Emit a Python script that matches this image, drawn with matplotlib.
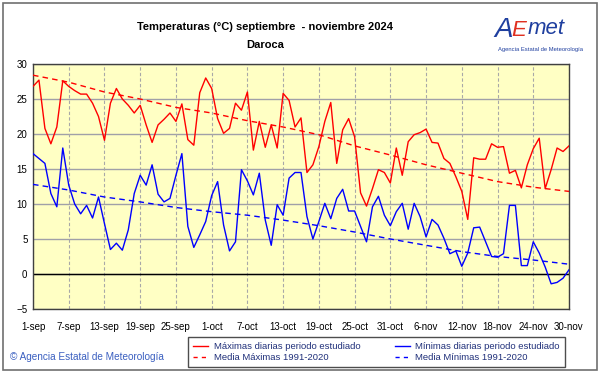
import matplotlib
matplotlib.use("Agg")
import matplotlib.pyplot as plt
from matplotlib.lines import Line2D
from matplotlib.patches import Rectangle

plt.rcParams['font.family'] = ['Liberation Sans', 'DejaVu Sans']

# dias desde el 1 de septiembre
tick_labels = ['1-sep', '7-sep', '13-sep', '19-sep', '25-sep', '1-oct', '7-oct',
               '13-oct', '19-oct', '25-oct', '31-oct', '6-nov', '12-nov',
               '18-nov', '24-nov', '30-nov']
tick_days = [0, 6, 12, 18, 24, 30, 36, 42, 48, 54, 60, 66, 72, 78, 84, 90]

tmax = [26.8, 27.7, 20.8, 18.6, 21.0, 27.6, 26.8, 26.2, 25.7, 25.7,
        24.4, 22.5, 19.1, 24.4, 26.5, 25.0, 24.1, 23.0, 24.1, 21.3,
        18.8, 21.3, 22.1, 23.0, 21.8, 24.3, 19.2, 18.4, 25.9, 28.0,
        26.5, 22.2, 20.1, 20.8, 24.4, 23.4, 26.0, 17.7, 21.8, 18.1,
        21.3, 18.0, 25.8, 24.8, 21.0, 22.3, 14.5, 15.6, 18.2, 21.8,
        24.5, 15.8, 20.6, 22.2, 19.6, 11.6, 9.7, 12.2, 14.9, 14.5,
        13.0, 18.0, 14.1, 18.9, 19.9, 20.2, 20.7, 18.8, 18.7, 16.5,
        15.8, 13.9, 11.8, 7.8, 16.6, 16.4, 16.4, 18.6, 18.1, 18.2,
        14.4, 14.8, 12.3, 15.6, 17.9, 19.4, 12.2, 14.9, 18.0, 17.5,
        18.3]

tmin = [17.2, 16.5, 15.8, 11.5, 9.6, 18.0, 12.7, 10.0, 8.6, 9.8,
        8.0, 11.0, 7.2, 3.5, 4.4, 3.4, 6.3, 11.5, 14.1, 12.7,
        15.6, 11.4, 10.3, 10.8, 14.1, 17.2, 6.8, 3.8, 5.6, 7.5,
        11.2, 13.2, 7.0, 3.3, 4.6, 14.9, 13.3, 11.3, 14.4, 7.7,
        4.1, 9.9, 8.4, 13.7, 14.5, 14.5, 8.2, 5.0, 7.5, 10.1,
        7.9, 10.8, 12.1, 9.0, 9.0, 6.8, 4.6, 9.6, 11.1, 8.4,
        6.9, 8.9, 10.1, 6.4, 10.1, 8.2, 5.3, 7.8, 7.0, 5.1,
        2.9, 3.3, 1.1, 3.0, 6.6, 6.7, 4.6, 2.5, 2.4, 2.9,
        9.8, 9.8, 1.2, 1.2, 4.6, 3.0, 1.0, -1.4, -1.2, -0.6,
        0.6]

media_max = [28.4, 27.4, 26.0, 25.0, 23.8, 23.0, 21.9, 21.0, 19.9, 18.3,
             17.0, 15.6, 14.4, 13.2, 12.4, 11.8]
media_min = [12.8, 12.0, 11.0, 10.3, 9.5, 8.9, 8.4, 7.7, 6.9, 6.0,
             5.0, 4.1, 3.2, 2.5, 2.0, 1.4]

dias = list(range(len(tmax)))

fig = plt.figure(figsize=(6.01, 3.74), dpi=100)
fig.patch.set_facecolor('white')
fig.add_artist(Rectangle((3 / 601, 4 / 374), 594 / 601, 367 / 374,
                         transform=fig.transFigure, fill=False,
                         edgecolor='#707070', linewidth=1.2))

ax = fig.add_axes([33 / 601, 1 - 309 / 374, 536 / 601, 245 / 374])
ax.set_facecolor('#FFFFC4')
ax.set_xlim(0, 90)
ax.set_ylim(-5, 30)

for y in range(-5, 31, 5):
    ax.axhline(y, color='#A0A0A8', linewidth=1, zorder=1)
for d in tick_days:
    ax.axvline(d, color='#A8A8A8', linewidth=0.8, linestyle=(0, (3, 2)), zorder=1)
ax.axhline(0, color='black', linewidth=1, zorder=2)

ax.plot(dias, tmax, color='#FF0000', linewidth=1, zorder=4)
ax.plot(dias, tmin, color='#0000FF', linewidth=1, zorder=4)
ax.plot(tick_days, media_max, color='#FF0000', linewidth=1,
        dashes=(4, 3), zorder=3)
ax.plot(tick_days, media_min, color='#0000FF', linewidth=1,
        dashes=(4, 3), zorder=3)

ax.set_xticks(tick_days)
ax.set_xticklabels(tick_labels)
ax.set_yticks(range(-5, 31, 5))
ax.tick_params(axis='both', length=0, labelsize=7, colors='black')
ax.tick_params(axis='x', pad=9)
ax.tick_params(axis='y', pad=4)
for s in ax.spines.values():
    s.set_color('#404040')
    s.set_linewidth(1)

fig.text(265 / 601, 1 - 27 / 374, 'Temperaturas (°C) septiembre  - noviembre 2024',
         ha='center', va='center', fontsize=8, fontweight='bold')
fig.text(265 / 601, 1 - 45 / 374, 'Daroca', ha='center', va='center',
         fontsize=8, fontweight='bold')

# logo AEMET aproximado
fig.text(494 / 601, 1 - 30 / 374, 'A', color='#1F3F9F', fontsize=20,
         style='italic', ha='left', va='center')
fig.text(511 / 601, 1 - 31 / 374, 'E', color='#E03020', fontsize=16,
         style='italic', ha='left', va='center')
fig.text(528 / 601, 1 - 28 / 374, 'met', color='#1F3F9F', fontsize=16,
         style='italic', ha='left', va='center')
fig.text(540 / 601, 1 - 50 / 374, 'Agencia Estatal de Meteorología',
         color='#1F3F9F', fontsize=4.2, ha='center', va='center')

fig.text(10 / 601, 1 - 357 / 374, '© Agencia Estatal de Meteorología',
         color='#3A5FC0', fontsize=7.2, ha='left', va='center')

handles = [
    Line2D([], [], color='#FF0000', linewidth=1),
    Line2D([], [], color='#FF0000', linewidth=1, dashes=(3, 3)),
    Line2D([], [], color='#0000FF', linewidth=1),
    Line2D([], [], color='#0000FF', linewidth=1, dashes=(3, 3)),
]
labels = ['Máximas diarias periodo estudiado', 'Media Máximas 1991-2020',
          'Mínimas diarias periodo estudiado', 'Media Mínimas 1991-2020']
leg = fig.legend(handles, labels, ncol=2, loc='lower left',
                 bbox_to_anchor=(188 / 601, 1 - 367 / 374, 377 / 601, 30 / 374),
                 mode='expand', fontsize=6.8, frameon=True, fancybox=False,
                 handlelength=1.6, handletextpad=0.6, borderpad=0.55,
                 labelspacing=0.2, columnspacing=2.5, borderaxespad=0)
leg.get_frame().set_edgecolor('#202020')
leg.get_frame().set_linewidth(1)
for t in leg.get_texts():
    t.set_color('#20307A')

fig.savefig('out.png', dpi=100)
